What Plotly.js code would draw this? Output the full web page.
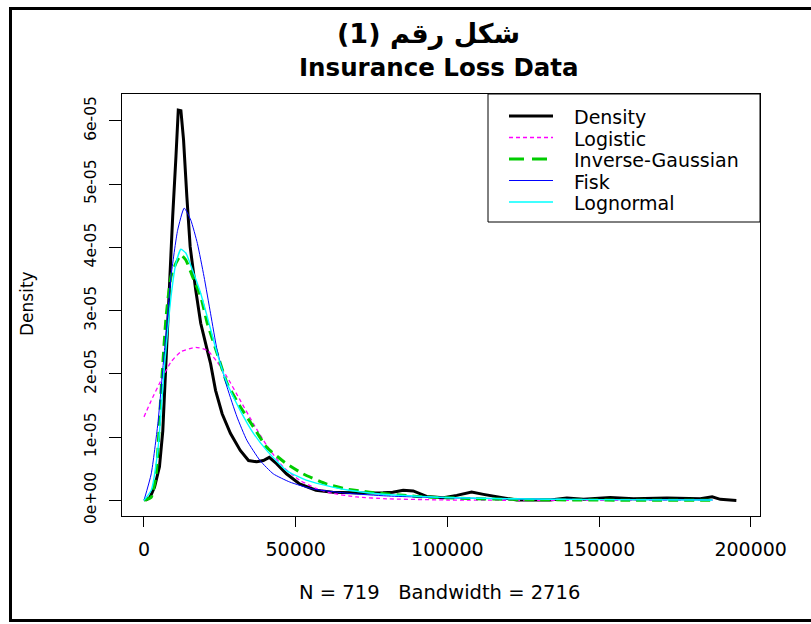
<!DOCTYPE html>
<html>
<head>
<meta charset="utf-8">
<script src="https://cdn.plot.ly/plotly-3.0.1.min.js"></script>
<style>html,body{margin:0;padding:0;background:#fff;}#plot{width:811px;height:624px;}</style>
</head>
<body>
<div id="plot"></div>
<script>
// ---- data (y values in units of 1e-05) ----
const UNIT = 1e-5;
const densityX = [538, 2000, 3480, 5100, 6200, 7280, 8370, 9460, 10540, 11300, 12170, 13040, 14130, 15220, 17070, 18700, 20870, 21960, 23590, 25760, 28480, 31740, 34460, 37170, 39350, 41300, 43700, 46960, 51300, 56700, 62200, 67800, 72000, 78800, 82000, 85450, 88750, 93150, 98700, 103100, 108000, 111900, 118500, 122900, 133900, 139400, 144900, 153700, 161400, 172400, 183400, 187300, 190000, 195277];
const densityY = [0.0, 0.05, 0.21, 0.53, 1.1, 2.27, 3.32, 4.49, 5.44, 6.17, 6.16, 5.70, 4.80, 4.01, 3.32, 2.80, 2.37, 2.16, 1.74, 1.37, 1.06, 0.79, 0.63, 0.61, 0.63, 0.68, 0.58, 0.42, 0.26, 0.16, 0.13, 0.116, 0.115, 0.12, 0.13, 0.16, 0.15, 0.063, 0.042, 0.079, 0.13, 0.095, 0.037, 0.005, 0.005, 0.037, 0.016, 0.047, 0.026, 0.037, 0.026, 0.058, 0.016, 0.0];

const logisticX = [0, 2390, 5650, 8910, 12170, 17070, 20870, 24130, 27390, 31740, 36090, 40440, 45870, 51300, 56700, 62200, 70000, 80000, 100000, 130000, 160000, 187400];
const logisticY = [1.32, 1.58, 1.90, 2.19, 2.35, 2.42, 2.37, 2.19, 1.95, 1.58, 1.21, 0.87, 0.53, 0.32, 0.19, 0.11, 0.055, 0.025, 0.006, 0.001, 0.0, 0.0];

const invGaussX = [0, 2390, 4020, 5650, 7280, 8910, 10540, 12170, 13800, 15980, 18700, 20870, 24130, 27390, 31740, 36090, 40440, 46960, 52400, 60100, 66700, 74400, 89900, 106400, 130000, 160000, 187400];
const invGaussY = [0, 0.05, 0.42, 1.74, 2.90, 3.54, 3.75, 3.88, 3.80, 3.54, 3.22, 2.80, 2.32, 1.85, 1.48, 1.16, 0.84, 0.58, 0.42, 0.26, 0.18, 0.13, 0.063, 0.03, 0.01, 0.003, 0.001];

const fiskX = [0, 2390, 4560, 6740, 8910, 11090, 13260, 15430, 17610, 19780, 21960, 24130, 27390, 30650, 33910, 38260, 42610, 48050, 55650, 67600, 80000, 100000, 130000, 160000, 187400];
const fiskY = [0, 0.42, 1.21, 2.37, 3.54, 4.27, 4.62, 4.43, 4.06, 3.54, 2.95, 2.37, 1.79, 1.32, 0.95, 0.63, 0.42, 0.29, 0.18, 0.11, 0.07, 0.04, 0.02, 0.012, 0.008];

const lognormX = [0, 2390, 4560, 6740, 8910, 10540, 12170, 13800, 15980, 18700, 20870, 24130, 27390, 31740, 36090, 40440, 46960, 53480, 62200, 67600, 78000, 90000, 100000, 120000, 150000, 187400];
const lognormY = [0, 0.16, 0.79, 2.11, 3.22, 3.75, 3.97, 3.91, 3.64, 3.27, 2.90, 2.32, 1.85, 1.42, 1.06, 0.79, 0.47, 0.32, 0.21, 0.16, 0.10, 0.065, 0.045, 0.025, 0.012, 0.006];

const seriesNames = ['Density', 'Logistic', 'Inverse-Gaussian', 'Fisk', 'Lognormal'];
const xTickVals = [0, 50000, 100000, 150000, 200000];
const xTickText = ['0', '50000', '100000', '150000', '200000'];
const yTickVals = [0, 1, 2, 3, 4, 5, 6];
const yTickText = ['0e+00', '1e-05', '2e-05', '3e-05', '4e-05', '5e-05', '6e-05'];
const mainTitle = 'شكل رقم (1)\u200F';
const subTitle = 'Insurance Loss Data';
const xLabel = 'N = 719\u00a0\u00a0 Bandwidth = 2716';
const yLabel = 'Density';

// ---- styles ----
const styles = [
  {color: '#000000', width: 3, dash: 'solid', legDash: 'solid', shape: 'linear'},
  {color: '#ff00ff', width: 1.3, dash: '4px,3px', legDash: '4px,3px', shape: 'spline'},
  {color: '#00cc00', width: 3, dash: '10px,6px', legDash: '15px,8px', shape: 'spline'},
  {color: '#0000ff', width: 1, dash: 'solid', legDash: 'solid', shape: 'spline'},
  {color: '#00ffff', width: 1.4, dash: 'solid', legDash: 'solid', shape: 'spline'}
];
const xs = [densityX, logisticX, invGaussX, fiskX, lognormX];
const ys = [densityY, logisticY, invGaussY, fiskY, lognormY];

const traces = seriesNames.map((n, i) => ({
  type: 'scatter', mode: 'lines', name: n,
  x: xs[i], y: ys[i].map(v => v * UNIT),
  line: {color: styles[i].color, width: styles[i].width, dash: styles[i].dash, shape: styles[i].shape, smoothing: 0.5},
  showlegend: false, hoverinfo: 'skip'
}));

// ---- layout helpers (pixel -> paper) ----
const W = 811, H = 624, L = 122, R = 760, T = 94, B = 516;
const px = p => (p - L) / (R - L);
const py = p => (B - p) / (B - T);
const FONT = 'DejaVu Sans, Liberation Sans, Arial, sans-serif';

const shapes = [];
const annotations = [];
// outer frame
shapes.push({type: 'rect', xref: 'paper', yref: 'paper', x0: px(10.5), x1: px(840), y0: py(620.5), y1: py(8.5), line: {color: '#000', width: 3}});
// legend box
shapes.push({type: 'rect', xref: 'paper', yref: 'paper', x0: px(488), x1: px(760), y0: py(222), y1: py(94), line: {color: '#000', width: 1}, fillcolor: '#fff'});
const legY = [116, 137.5, 159, 180.5, 202];
seriesNames.forEach((n, i) => {
  shapes.push({type: 'line', xref: 'paper', yref: 'paper', x0: px(509), x1: px(553), y0: py(legY[i]), y1: py(legY[i]),
    line: {color: styles[i].color, width: styles[i].width, dash: styles[i].legDash}});
  annotations.push({xref: 'paper', yref: 'paper', x: px(572), y: py(legY[i] + 1), xanchor: 'left', yanchor: 'middle',
    text: n, showarrow: false, font: {family: FONT, size: 19, color: '#000'}});
});
// titles
annotations.push({xref: 'paper', yref: 'paper', x: px(428), y: py(34), xanchor: 'center', yanchor: 'middle', text: '<b>' + mainTitle + '</b>', showarrow: false, font: {family: FONT, size: 27, color: '#000'}});
annotations.push({xref: 'paper', yref: 'paper', x: px(439), y: py(68), xanchor: 'center', yanchor: 'middle', text: '<b>' + subTitle + '</b>', showarrow: false, font: {family: FONT, size: 24.5, color: '#000'}});
annotations.push({xref: 'paper', yref: 'paper', x: px(439), y: py(592), xanchor: 'center', yanchor: 'middle', text: xLabel, showarrow: false, font: {family: FONT, size: 19.5, color: '#000'}});
annotations.push({xref: 'paper', yref: 'paper', x: px(27), y: py(304), xanchor: 'center', yanchor: 'middle', text: yLabel, textangle: -90, showarrow: false, font: {family: FONT, size: 17, color: '#000'}});

const layout = {
  width: W, height: H,
  margin: {l: L, r: W - R, t: T, b: H - B, pad: 0},
  paper_bgcolor: '#fff', plot_bgcolor: '#fff',
  showlegend: false,
  font: {family: FONT, color: '#000'},
  xaxis: {range: [-7250, 203070], tickvals: xTickVals, ticktext: xTickText, ticks: 'outside', ticklen: 10, tickcolor: '#000',
    showline: true, mirror: true, linecolor: '#000', linewidth: 1, showgrid: false, zeroline: false,
    tickfont: {family: FONT, size: 19, color: '#000'}, ticklabelstandoff: 6},
  yaxis: {range: [-0.247 * UNIT, 6.424 * UNIT], tickvals: yTickVals.map(v => v * UNIT), ticktext: yTickText, ticks: 'outside', ticklen: 12, tickcolor: '#000',
    showline: true, mirror: true, linecolor: '#000', linewidth: 1, showgrid: false, zeroline: false, tickangle: -90,
    tickfont: {family: FONT, size: 15.5, color: '#000'}, ticklabelstandoff: 7},
  shapes: shapes,
  annotations: annotations
};

Plotly.newPlot('plot', traces, layout, {displayModeBar: false, staticPlot: true});
</script>
</body>
</html>
